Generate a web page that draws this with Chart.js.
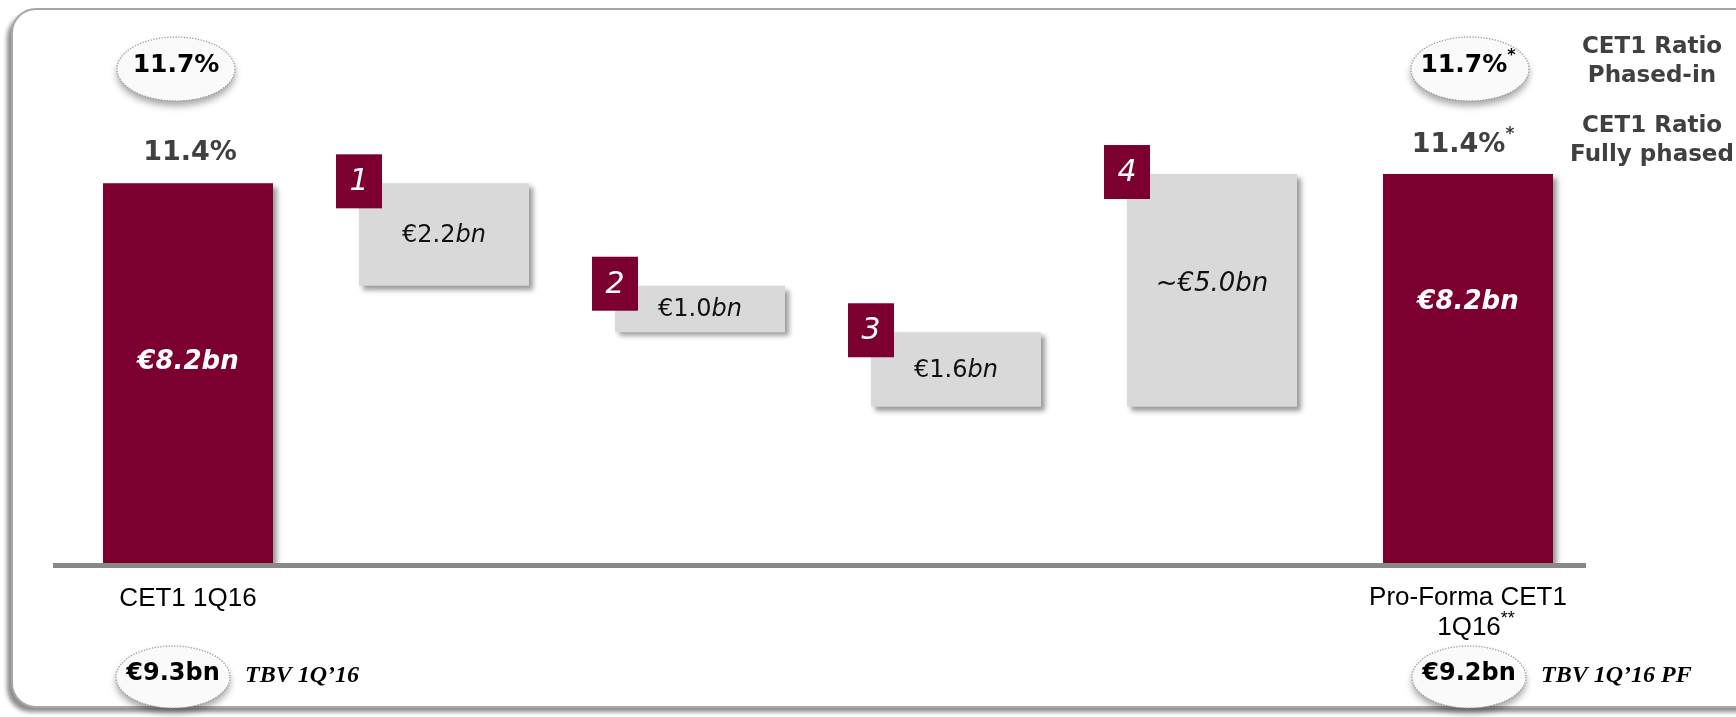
<!DOCTYPE html>
<html lang="en">
<head>
  <meta charset="UTF-8">
  <title>CET1 bridge 1Q16</title>
  <script src="https://cdn.jsdelivr.net/npm/chart.js"></script>
  <style>
    html, body { margin: 0; padding: 0; background: #ffffff; }
    #wrap { position: relative; width: 1736px; height: 717px; }
  </style>
</head>
<body>
<div id="wrap"><canvas id="bridge"></canvas></div>
<script>
  // values (EUR bn); floating bars go from barBottom to barTop
  const categories = ['CET1 1Q16', '1', '2', '3', '4', 'Pro-Forma CET1 1Q16'];
  const barBottom = [0, 6.0, 5.0, 3.4, 3.4, 0];
  const barTop = [8.2, 8.2, 6.0, 5.0, 8.4, 8.4];
  const valueText = ['€8.2', '€2.2', '€1.0', '€1.6', '~€5.0', '€8.2'];
  const stepNumbers = ['', '1', '2', '3', '4', ''];
  const phasedIn = ['11.7%', '11.7%'];
  const fullyPhased = ['11.4%', '11.4%'];
  const tbvValues = ['€9.3bn', '€9.2bn'];
  const tbvLabels = ['TBV 1Q’16', 'TBV 1Q’16 PF'];

  const RED = '#7b0030';
  const GREY = '#d9d9d9';
  const SANS = '"DejaVu Sans", Verdana, sans-serif';
  const ARIAL = '"Liberation Sans", Arial, sans-serif';
  const SERIF = '"Liberation Serif", "Times New Roman", serif';

  function drawRich(ctx, parts, cx, y, color) {
    let total = 0;
    parts.forEach(p => { ctx.font = p.font; total += ctx.measureText(p.text).width; });
    let x = cx - total / 2;
    ctx.textAlign = 'left';
    ctx.textBaseline = 'middle';
    parts.forEach(p => {
      ctx.font = p.font;
      ctx.fillStyle = p.color || color;
      ctx.fillText(p.text, x, y + (p.dy || 0));
      x += ctx.measureText(p.text).width;
    });
  }

  function bubble(ctx, cx, cy, rx, ry) {
    ctx.save();
    ctx.shadowColor = 'rgba(0,0,0,0.35)';
    ctx.shadowBlur = 7;
    ctx.shadowOffsetY = 5;
    ctx.beginPath();
    ctx.ellipse(cx, cy, rx, ry, 0, 0, Math.PI * 2);
    ctx.fillStyle = '#fafafa';
    ctx.fill();
    ctx.restore();
    ctx.save();
    ctx.beginPath();
    ctx.ellipse(cx, cy, rx, ry, 0, 0, Math.PI * 2);
    ctx.setLineDash([1.2, 1.6]);
    ctx.lineWidth = 1.3;
    ctx.strokeStyle = '#9a9a9a';
    ctx.stroke();
    ctx.restore();
  }

  const frame = {
    id: 'frame',
    beforeDraw(chart) {
      const ctx = chart.ctx;
      ctx.save();
      ctx.shadowColor = 'rgba(0,0,0,0.45)';
      ctx.shadowBlur = 4;
      ctx.shadowOffsetX = -5;
      ctx.shadowOffsetY = 5;
      ctx.beginPath();
      ctx.roundRect(12, 9, 1780, 698, 24);
      ctx.fillStyle = '#ffffff';
      ctx.fill();
      ctx.shadowColor = 'transparent';
      ctx.lineWidth = 2;
      ctx.strokeStyle = '#a8a8a8';
      ctx.stroke();
      ctx.restore();
    },
    beforeDatasetsDraw(chart) {
      const ctx = chart.ctx;
      ctx.save();
      ctx.shadowColor = 'rgba(0,0,0,0.4)';
      ctx.shadowBlur = 5;
      ctx.shadowOffsetX = 4;
      ctx.shadowOffsetY = 4;
    },
    afterDatasetsDraw(chart) {
      const ctx = chart.ctx;
      ctx.restore();
      const y = chart.scales.y;
      const bars = chart.getDatasetMeta(0).data;
      const base = y.getPixelForValue(0);

      // baseline
      ctx.fillStyle = '#888888';
      ctx.fillRect(53, base - 2, 1533, 5);

      // step number badges
      bars.forEach((b, i) => {
        if (!stepNumbers[i]) return;
        const left = b.x - b.width / 2;
        ctx.fillStyle = RED;
        ctx.fillRect(left - 23, b.y - 29, 46, 54);
        ctx.font = 'italic 30px ' + SANS;
        ctx.fillStyle = '#ffffff';
        ctx.textAlign = 'center';
        ctx.textBaseline = 'middle';
        ctx.fillText(stepNumbers[i], left, b.y - 1);
      });

      // value labels
      bars.forEach((b, i) => {
        const mid = (b.y + b.base) / 2;
        if (i === 0 || i === 5) {
          const ly = i === 0 ? 362 : 302;
          drawRich(ctx, [{ text: valueText[i] + 'bn', font: 'italic bold 26px ' + SANS }], b.x, ly, '#ffffff');
        } else if (i === 4) {
          drawRich(ctx, [{ text: valueText[i] + 'bn', font: 'italic 26px ' + SANS }], b.x, mid - 6, '#111111');
        } else {
          drawRich(ctx, [
            { text: valueText[i], font: '24px ' + SANS },
            { text: 'bn', font: 'italic 24px ' + SANS }
          ], b.x, mid + 1, '#111111');
        }
      });

      const first = bars[0], last = bars[5];

      // CET1 ratio phased-in bubbles
      bubble(ctx, first.x - 12, 69, 59, 32);
      drawRich(ctx, [{ text: phasedIn[0], font: 'bold 25px ' + SANS }], first.x - 12, 65, '#000000');
      bubble(ctx, last.x + 2, 69, 59, 32);
      drawRich(ctx, [
        { text: phasedIn[1], font: 'bold 25px ' + SANS },
        { text: '*', font: 'bold 16px ' + SANS, dy: -9 }
      ], last.x, 65, '#000000');

      // CET1 ratio fully phased
      drawRich(ctx, [{ text: fullyPhased[0], font: 'bold 27px ' + SANS }], first.x + 2, 153, '#404040');
      drawRich(ctx, [
        { text: fullyPhased[1], font: 'bold 27px ' + SANS },
        { text: '*', font: 'bold 17px ' + SANS, dy: -10 }
      ], last.x - 5, 145, '#404040');

      // legend on the right
      ctx.font = 'bold 23px ' + SANS;
      ctx.fillStyle = '#404040';
      ctx.textAlign = 'center';
      ctx.textBaseline = 'middle';
      ctx.fillText('CET1 Ratio', 1652, 47);
      ctx.fillText('Phased-in', 1652, 76);
      ctx.fillText('CET1 Ratio', 1652, 126);
      ctx.fillText('Fully phased', 1652, 155);

      // category labels
      ctx.font = '26px ' + ARIAL;
      ctx.fillStyle = '#000000';
      ctx.fillText(categories[0], first.x, 599);
      ctx.fillText('Pro-Forma CET1', last.x, 598);
      drawRich(ctx, [
        { text: '1Q16', font: '26px ' + ARIAL },
        { text: '**', font: '18px ' + ARIAL, dy: -9 }
      ], last.x + 8, 628, '#000000');

      // tangible book value
      [first, last].forEach((b, k) => {
        const cx = k === 0 ? 173 : 1469;
        bubble(ctx, cx, 677, 57, 31);
        drawRich(ctx, [{ text: tbvValues[k], font: 'bold 24px ' + SANS }], cx, 674, '#000000');
        ctx.font = 'italic bold 24px ' + SERIF;
        ctx.fillStyle = '#000000';
        ctx.textAlign = 'left';
        ctx.textBaseline = 'middle';
        ctx.fillText(tbvLabels[k], cx + 72, 676);
      });
    }
  };

  new Chart(document.getElementById('bridge'), {
    type: 'bar',
    data: {
      labels: categories,
      datasets: [{
        data: categories.map((c, i) => [barBottom[i], barTop[i]]),
        backgroundColor: categories.map((c, i) => (i === 0 || i === 5) ? RED : GREY),
        borderWidth: 0,
        barPercentage: 0.664,
        categoryPercentage: 1
      }]
    },
    options: {
      responsive: true,
      maintainAspectRatio: false,
      animation: false,
      layout: { padding: { left: 60, right: 140, top: 53, bottom: 152 } },
      plugins: { legend: { display: false }, tooltip: { enabled: false } },
      scales: {
        x: { display: false },
        y: { display: false, min: 0, max: 11 }
      }
    },
    plugins: [frame]
  });
</script>
</body>
</html>
